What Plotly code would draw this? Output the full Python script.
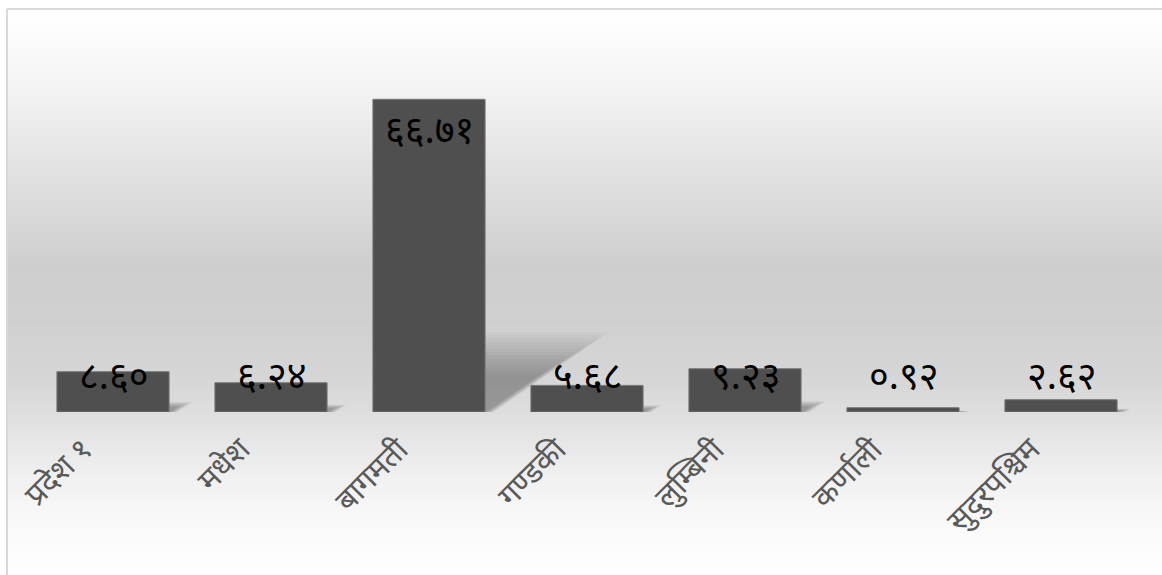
import plotly.graph_objects as go

# Province shares (%)
regions = ["प्रदेश १", "मधेश", "बागमती", "गण्डकी", "लुम्बिनी", "कर्णाली", "सुदुरपश्चिम"]
shares = [8.60, 6.24, 66.71, 5.68, 9.23, 0.92, 2.62]

DEV_DIGITS = str.maketrans("0123456789", "०१२३४५६७८९")
value_labels = [f"{v:.2f}".translate(DEV_DIGITS) for v in shares]

W, H = 1162, 575
ML, MR, MT, MB = 34, 22, 37, 163
Y_MAX = 80
PLOT_W = W - ML - MR
PLOT_H = H - MT - MB
BASE_PX = H - MB
BAR_W = 0.71

DEV_FONT = "Noto Sans Devanagari, Noto Sans, Lohit Devanagari, sans-serif"


def px_to_paper_y(ypx):
    return (BASE_PX - ypx) / PLOT_H


def px_to_paper_x(xpx):
    return (xpx - ML) / PLOT_W


# vertical gray gradient of the chart area: (pixel row, gray level)
grad_stops = [(9, 255), (50, 250), (100, 241), (150, 230), (200, 220),
              (265, 206), (320, 208), (380, 214), (420, 224), (440, 230),
              (480, 241), (520, 249), (560, 253), (575, 254)]


def gray_at(y):
    for (y0, g0), (y1, g1) in zip(grad_stops, grad_stops[1:]):
        if y0 <= y <= y1:
            t = (y - y0) / (y1 - y0)
            return round(g0 + (g1 - g0) * t)
    return grad_stops[-1][1]


shapes = []
FRAME_L, FRAME_T = 7, 9
step = 3
y = FRAME_T
while y < H:
    g = gray_at(y + step / 2)
    shapes.append(dict(
        type="rect", xref="paper", yref="paper", layer="below",
        x0=px_to_paper_x(FRAME_L), x1=px_to_paper_x(W + 2),
        y0=px_to_paper_y(y), y1=px_to_paper_y(min(y + step + 0.6, H + 2)),
        line=dict(width=0), fillcolor=f"rgb({g},{g},{g})",
    ))
    y += step

# chart frame (top and left edges)
frame_style = dict(color="#d9d9d9", width=2)
shapes.append(dict(type="line", xref="paper", yref="paper", layer="above",
                   x0=px_to_paper_x(FRAME_L), x1=px_to_paper_x(W + 2),
                   y0=px_to_paper_y(FRAME_T), y1=px_to_paper_y(FRAME_T),
                   line=frame_style))
shapes.append(dict(type="line", xref="paper", yref="paper", layer="above",
                   x0=px_to_paper_x(FRAME_L), x1=px_to_paper_x(FRAME_L),
                   y0=px_to_paper_y(FRAME_T), y1=px_to_paper_y(H + 2),
                   line=frame_style))

# soft perspective shadows cast behind each bar
SHADOW_H = 0.237      # shadow height relative to bar height
SHADOW_DX = 0.0101    # horizontal skew (categories per unit of value)
N_BLUR = 14
for i, v in enumerate(shares):
    for k in range(N_BLUR):
        f = 1.08 - 0.045 * k
        hs = v * SHADOW_H * f
        dx = v * SHADOW_DX * f
        xl = i - BAR_W / 2
        xr = i + BAR_W / 2 + 0.004 * (N_BLUR - k)
        path = (f"M {xl},0 L {xr},0 L {xr + dx},{hs} "
                f"L {xl + dx},{hs} Z")
        shapes.append(dict(type="path", xref="x", yref="y", layer="below",
                           path=path, line=dict(width=0),
                           fillcolor="rgba(50,50,50,0.035)"))

fig = go.Figure(go.Bar(
    x=list(range(len(regions))), y=shares, width=BAR_W,
    marker=dict(color="#4f4f4f", line=dict(color="#777777", width=1)),
    hoverinfo="skip",
))

# value labels: inside the top of the bar, kept above the base for short bars
LABEL_DROP = 7.4
LABEL_MIN = 6.8
annotations = []
for i, (v, lab) in enumerate(zip(shares, value_labels)):
    annotations.append(dict(
        x=i, y=max(v - LABEL_DROP, LABEL_MIN), xref="x", yref="y",
        text=lab, showarrow=False, yanchor="middle", xanchor="center",
        font=dict(family=DEV_FONT, size=38, color="#000000"),
    ))

fig.update_layout(
    width=W, height=H,
    margin=dict(l=ML, r=MR, t=MT, b=MB),
    paper_bgcolor="#ffffff", plot_bgcolor="rgba(0,0,0,0)",
    showlegend=False,
    shapes=shapes, annotations=annotations,
    xaxis=dict(
        range=[-0.5, len(regions) - 0.5],
        tickmode="array", tickvals=list(range(len(regions))), ticktext=regions,
        tickangle=-45, showgrid=False, zeroline=False, showline=False,
        ticks="", tickfont=dict(family=DEV_FONT, size=31, color="#595959"),
        ticklabelstandoff=12, ticklabelshift=-30,
    ),
    yaxis=dict(range=[0, Y_MAX], visible=False, showgrid=False, zeroline=False),
)

fig.write_html("out.html")
